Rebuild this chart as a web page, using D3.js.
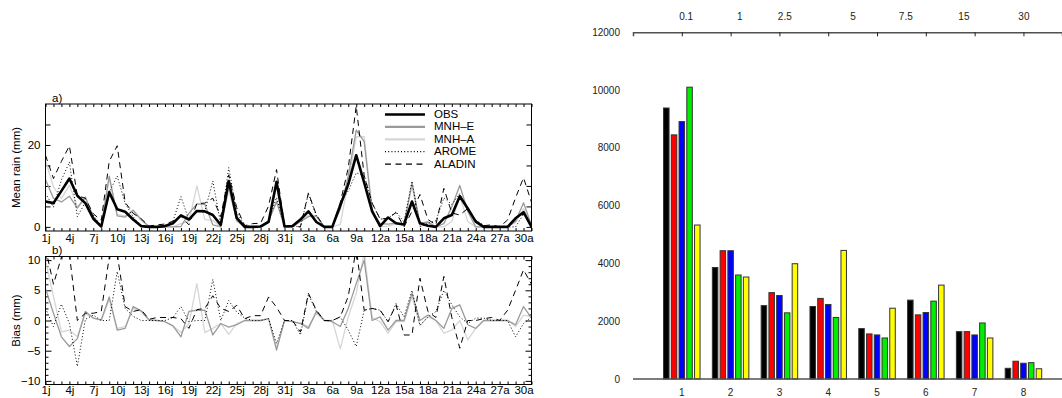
<!DOCTYPE html>
<html><head><meta charset="utf-8">
<script src="https://cdn.jsdelivr.net/npm/d3@7"></script>
<style>
body{margin:0;background:#fff}
svg{display:block}
text{font-family:"Liberation Sans",Arial,Helvetica,sans-serif}
</style>
</head><body>
<svg id="chart" width="1062" height="398"></svg>
<script>
// ---- daily series, 1 July .. 31 August (62 days) ----
const dayTicks = [0,3,6,9,12,15,18,21,24,27,30,33,36,39,42,45,48,51,54,57,60];
const dayTickLabels = ["1j","4j","7j","10j","13j","16j","19j","22j","25j","28j","31j","3a","6a","9a","12a","15a","18a","21a","24a","27a","30a"];

// mean rain (mm)
const obs   = [6.2,5.8,8.8,11.8,7.6,5.8,2.0,0.1,8.5,4.3, 3.7,1.8,0.2,0,0,0.2,0.9,2.8,1.8,3.9, 3.8,2.9,0.5,11.2,2.2,0,0,0.1,1.2,11.0, 0.1,0.2,1.8,3.8,1.2,0,0,5.3,10.4,17.5, 10.8,3.8,0.2,2.3,0.9,0.6,6.2,0.9,0.3,0, 2.1,2.9,7.5,4.5,1.3,0,0,0,0,2.1, 3.6,0];
const mnhE  = [11.5,7.0,6.1,7.5,4.6,7.3,2.4,0.2,12.4,2.7, 2.4,4.1,1.8,0.1,0,0,0,0.1,3.3,5.6, 5.5,0.5,0,10.1,1.5,0,0,0.1,1.5,6.1, 0.1,0,1.3,2.5,2.7,0,0,4.3,12.4,23.6, 20.8,3.8,0.8,0.7,0.9,0.6,10.7,0.9,1.2,0, 0.8,4.9,10.1,3.8,0,0,0,0,0,1.4, 5.9,0.4];
const mnhA  = [16.2,9.8,6.9,10.2,4.9,7.0,2.4,0.1,12.0,3.0, 2.7,3.8,1.7,0,0,0,0,0.8,1.3,10.0, 1.8,1.6,0,8.9,1.7,0,0,0.1,1.5,6.5, 0.1,0,1.4,2.8,2.4,0,0,0.6,11.0,22.0, 22.0,4.3,0,0.2,0.7,0.4,10.2,0,0.9,0, 0,1.3,7.5,1.3,0,0,0,0,0,1.1, 4.5,0.6];
const arome = [8.2,4.8,11.5,15.8,2.5,6.0,2.9,0.1,8.5,12.4, 5.7,2.5,0.2,0,0,0.2,1.4,7.4,1.6,3.9, 3.8,11.2,0.5,14.5,3.6,0.4,0,0.1,1.5,7.2, 0.1,0.2,0,8.1,2.7,0,0,5.9,8.8,13.2, 12.5,5.8,1.9,2.1,3.7,1.2,11.2,0.1,0.9,1.5, 7.1,5.5,8.1,4.0,1.7,0.4,0,0,0,0, 3.1,0.6];
const aladin= [17.5,11.8,16.0,19.8,7.6,7.0,3.2,1.6,16.0,19.8, 6.0,3.3,2.0,0.2,0.5,0.7,1.4,2.6,0.5,5.7, 5.8,7.0,2.5,12.7,4.7,0.3,0.8,0.9,5.1,14.0, 0.1,0.2,0,8.3,2.9,0,0,5.9,14.4,29.5, 12.5,5.8,1.9,2.1,3.5,0,3.8,7.9,1.8,0.5, 9.4,3.4,2.9,4.5,1.3,0.3,0.5,0,1.7,7.1, 12.0,6.0];

// bias (mm), model minus observation
const biasE     = [5.3,1.2,-2.7,-4.3,-3.0,1.5,0.4,0.1,3.9,-1.6, -1.3,2.3,1.6,0.1,0,-0.2,-0.9,-2.7,1.5,1.7, 1.7,-2.4,-0.5,-1.1,-0.7,0,0,0,0.3,-4.9, 0,-0.2,-0.5,-1.3,1.5,0,-0.2,-1.0,2.0,6.1, 10.0,0,0.6,-1.6,0,0,4.5,0,0.9,0, -1.3,2.0,2.6,-0.7,-1.3,0,0,0,0,-0.7, 2.3,0.4];
const biasA     = [10.0,4.0,-1.9,-1.6,-2.7,1.2,0.4,0,3.5,-1.3, -1.0,2.0,1.5,0,0,-0.2,-0.9,-2.0,-0.5,6.1, -2.0,-1.3,-0.5,-2.3,-0.5,0,0,0,0.3,-4.5, 0,-0.2,-0.4,-1.0,1.2,0,0,-4.7,0.6,4.5, 11.2,0.5,-0.2,-2.1,-0.2,-0.2,4.0,-0.9,0.6,0, -2.1,-1.6,0,-3.2,-1.3,0,0,0,0,-1.0, 0.9,0.6];
const biasArome = [2.0,-1.0,2.7,-0.5,-7.6,0.2,0.9,0,0,8.1, 2.0,0.7,0,0,0,0,0.5,2.3,-0.2,0, 0,6.8,0,3.3,1.4,0.4,0,0,0.3,-3.8, 0,0,-2.4,4.3,1.5,0,0,0.6,-1.6,-4.3, 1.7,2.0,1.7,-0.2,2.8,0.6,5.0,-0.8,0.6,1.5, 5.0,2.6,0.6,-0.5,0.4,0.4,0,0,0,-2.7, -0.5,0.6];
const biasAladin= [12.0,6.0,10.5,11.0,0,1.2,1.2,1.5,10.5,11.0, 2.3,1.5,1.8,0.2,0.5,0.5,0.5,0.3,-1.3,1.8, 2.0,4.1,2.0,1.5,2.5,0.3,0.8,0.8,3.9,2.2, 0,0,-1.9,4.5,1.7,0,0,0.6,4.0,12.0, 1.7,2.0,1.7,-0.2,2.6,-2.4,-2.4,7.0,1.5,0.5, 7.3,0.5,-4.6,0,0,0.3,0.5,0,1.7,5.0, 8.4,6.0];

// ---- counts per rain class ----
const classes = [1,2,3,4,5,6,7,8];
const thresholds = ["0.1","1","2.5","5","7.5","15","30"];
const countBlack  = [9380,3860,2540,2510,1745,2730,1640,370];
const countRed    = [8450,4440,2990,2790,1560,2220,1640,615];
const countBlue   = [8910,4440,2890,2580,1525,2300,1525,545];
const countGreen  = [10100,3600,2290,2130,1420,2695,1940,565];
const countYellow = [5330,3530,3990,4450,2450,3250,1420,355];

// ================= drawing =================
const svg = d3.select("#chart");
const FONT = '"Liberation Sans",Arial,sans-serif';

// ---------- time-series panels ----------
const L = 45.5, R = 531.5;
const x = d3.scaleLinear().domain([0, 61]).range([L, R]);
const yA = d3.scaleLinear().domain([-1, 30]).range([231, 104]);
const yB = d3.scaleLinear().domain([-10.6, 10.6]).range([384.5, 256.5]);

const styles = {
  obs:    {stroke:"#000",    width:2.6, dash:null},
  mnhE:   {stroke:"#9a9a9a", width:1.3, dash:null},
  mnhA:   {stroke:"#d6d6d6", width:1.3, dash:null},
  arome:  {stroke:"#000",    width:1.0, dash:"1,2.2"},
  aladin: {stroke:"#000",    width:1.0, dash:"6,4.5"}
};

function panel(top, bottom, id, labelPad) {
  const g = svg.append("g");
  svg.append("clipPath").attr("id", id).append("rect")
    .attr("x", L).attr("y", top).attr("width", R - L).attr("height", bottom - top);
  // daily ticks, top and bottom, inside
  g.append("g").attr("transform", `translate(0,${bottom})`)
    .call(d3.axisBottom(x).tickValues(d3.range(62)).tickSize(-3).tickFormat(""));
  g.append("g").attr("transform", `translate(0,${top})`)
    .call(d3.axisTop(x).tickValues(d3.range(62)).tickSize(-3).tickFormat(""));
  // day labels
  const lab = g.append("g").attr("transform", `translate(0,${bottom})`)
    .call(d3.axisBottom(x).tickValues(dayTicks).tickSize(0).tickPadding(labelPad)
      .tickFormat((d, i) => dayTickLabels[i]));
  lab.selectAll("text").attr("font-size", 11.5).attr("fill", "#000").attr("font-family", FONT);
  g.selectAll(".domain").remove();
  g.selectAll("line").attr("stroke", "#000");
  return g;
}

function drawLine(g, data, y, st, clip) {
  const line = d3.line().x((d, i) => x(i)).y(d => y(d));
  g.append("path").datum(data)
    .attr("clip-path", `url(#${clip})`)
    .attr("fill", "none")
    .attr("stroke", st.stroke)
    .attr("stroke-width", st.width)
    .attr("stroke-linejoin", "round")
    .attr("stroke-dasharray", st.dash)
    .attr("d", line);
}

// panel a
const gA = panel(104, 231, "clipA", 2.5);
gA.append("g").attr("transform", `translate(${L},0)`)
  .call(d3.axisLeft(yA).tickValues([0,5,10,15,20,25]).tickSize(-5).tickFormat(""));
gA.append("g").attr("transform", `translate(${R},0)`)
  .call(d3.axisRight(yA).tickValues([0,5,10,15,20,25]).tickSize(-5).tickFormat(""));
const ylabA = gA.append("g").attr("transform", `translate(${L},0)`)
  .call(d3.axisLeft(yA).tickValues([0,20]).tickSize(0).tickPadding(5));
ylabA.selectAll("text").attr("font-size", 11.5).attr("fill", "#000").attr("font-family", FONT);
gA.selectAll(".domain").remove();
gA.selectAll("line").attr("stroke", "#000");

drawLine(gA, mnhA, yA, styles.mnhA, "clipA");
drawLine(gA, mnhE, yA, styles.mnhE, "clipA");
drawLine(gA, arome, yA, styles.arome, "clipA");
drawLine(gA, aladin, yA, styles.aladin, "clipA");
drawLine(gA, obs, yA, styles.obs, "clipA");

gA.append("rect").attr("x", L).attr("y", 104).attr("width", R - L).attr("height", 127)
  .attr("fill", "none").attr("stroke", "#000").attr("stroke-width", 1);
gA.append("text").attr("x", 52).attr("y", 102).attr("font-size", 11.5).text("a)");
gA.append("text").attr("transform", `translate(20,${yA(14.5)}) rotate(-90)`)
  .attr("text-anchor", "middle").attr("font-size", 11.5).text("Mean rain (mm)");

// legend
const legend = [
  ["OBS", styles.obs], ["MNH\u2013E", styles.mnhE], ["MNH\u2013A", styles.mnhA],
  ["AROME", styles.arome], ["ALADIN", styles.aladin]
];
legend.forEach(([name, st], i) => {
  const yy = 118 + i * 12.4;
  gA.append("line").attr("x1", 385).attr("x2", 425).attr("y1", yy - 3.5).attr("y2", yy - 3.5)
    .attr("stroke", st.stroke).attr("stroke-width", st === styles.obs ? 2.6 : (st.dash ? 1.2 : 2.2))
    .attr("stroke-dasharray", st.dash);
  gA.append("text").attr("x", 434).attr("y", yy).attr("font-size", 11.5).text(name);
});

// panel b
const gB = panel(256.5, 384.5, "clipB", 1.8);
const minorB = d3.range(-10, 11).filter(v => v % 5 !== 0);
[[L, d3.axisLeft], [R, d3.axisRight]].forEach(([px, ax]) => {
  gB.append("g").attr("transform", `translate(${px},0)`)
    .call(ax(yB).tickValues(minorB).tickSize(-3).tickFormat(""));
  gB.append("g").attr("transform", `translate(${px},0)`)
    .call(ax(yB).tickValues([-10,-5,0,5,10]).tickSize(-6).tickFormat(""));
});
const ylabB = gB.append("g").attr("transform", `translate(${L},0)`)
  .call(d3.axisLeft(yB).tickValues([-10,-5,0,5,10]).tickSize(0).tickPadding(5)
    .tickFormat(d => d < 0 ? "\u2212" + Math.abs(d) : d));
ylabB.selectAll("text").attr("font-size", 11.5).attr("fill", "#000").attr("font-family", FONT);
gB.selectAll(".domain").remove();
gB.selectAll("line").attr("stroke", "#000");

drawLine(gB, biasA, yB, styles.mnhA, "clipB");
drawLine(gB, biasE, yB, styles.mnhE, "clipB");
drawLine(gB, biasArome, yB, styles.arome, "clipB");
drawLine(gB, biasAladin, yB, styles.aladin, "clipB");

gB.append("rect").attr("x", L).attr("y", 256.5).attr("width", R - L).attr("height", 128)
  .attr("fill", "none").attr("stroke", "#000").attr("stroke-width", 1);
gB.append("text").attr("x", 52).attr("y", 254).attr("font-size", 11.5).text("b)");
gB.append("text").attr("transform", `translate(20,${yB(0)}) rotate(-90)`)
  .attr("text-anchor", "middle").attr("font-size", 11.5).text("Bias (mm)");

// ---------- class histogram ----------
const xc = d3.scaleLinear().domain([0, 8.79]).range([633, 1062]);
const yc = d3.scaleLinear().domain([0, 12000]).range([379, 32.3]);
const barColors = ["#000000", "#ff0000", "#0000ff", "#00ee00", "#ffff00"];
const barSeries = [countBlack, countRed, countBlue, countGreen, countYellow];
const inner = d3.scaleBand().domain(d3.range(5)).range([-18.25, 18.25]).paddingInner(0.29);

const gC = svg.append("g");
const axisGray = "#505050";
// y labels
gC.selectAll("text.yl").data(yc.ticks(6)).join("text")
  .attr("class", "yl").attr("x", 620).attr("y", d => yc(d)).attr("dy", "0.35em")
  .attr("text-anchor", "end").attr("font-size", 10).attr("fill", "#222").text(d => d);

barSeries.forEach((vals, s) => {
  gC.selectAll(`rect.s${s}`).data(vals).join("rect")
    .attr("class", `s${s}`)
    .attr("x", (d, i) => xc(classes[i]) + inner(s))
    .attr("y", d => yc(d))
    .attr("width", inner.bandwidth())
    .attr("height", d => yc(0) - yc(d))
    .attr("fill", barColors[s])
    .attr("stroke", "#333").attr("stroke-width", 1);
});

// bottom axis
gC.append("line").attr("x1", 633).attr("x2", 1062).attr("y1", yc(0)).attr("y2", yc(0))
  .attr("stroke", axisGray).attr("stroke-width", 1.5);
gC.selectAll("text.xl").data(classes).join("text")
  .attr("class", "xl").attr("x", d => xc(d)).attr("y", 396).attr("text-anchor", "middle")
  .attr("font-size", 10).attr("fill", "#222").text(d => d);

// top axis with rain thresholds
const gTop = gC.append("g").attr("transform", `translate(0,${yc(12000)})`)
  .call(d3.axisTop(xc).tickValues(classes).tickSize(-4).tickFormat(""));
gTop.select(".domain").attr("stroke", axisGray).attr("stroke-width", 1.5);
gTop.selectAll("line").attr("stroke", "#222");
const thresholdPos = [1.09, 2.19, 3.11, 4.51, 5.59, 6.78, 8.01];
gC.selectAll("text.tl").data(thresholds).join("text")
  .attr("class", "tl").attr("x", (d, i) => xc(thresholdPos[i])).attr("y", 20)
  .attr("text-anchor", "middle").attr("font-size", 10).attr("fill", "#222").text(d => d);
</script>
</body></html>
